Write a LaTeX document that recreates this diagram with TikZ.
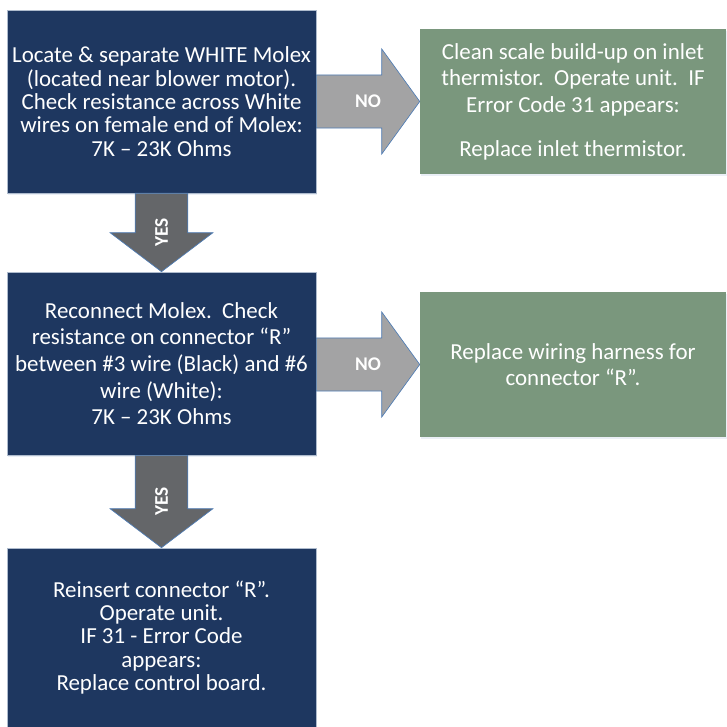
\documentclass[tikz,border=0pt]{standalone}
\usepackage{fontspec}
\setmainfont{Carlito}
\usepackage{tikz}
\usetikzlibrary{positioning,calc,shadows}
\definecolor{navy}{HTML}{1E3760}
\definecolor{sage}{HTML}{7A977D}
\definecolor{nogrey}{HTML}{A3A3A4}
\definecolor{yesgrey}{HTML}{646669}
\definecolor{edgeblue}{HTML}{4F7DB5}
\definecolor{rim}{HTML}{AEBBCD}
\frenchspacing

\tikzset{
  navybox/.style={fill=navy,draw=rim,line width=0.5pt,text=white,align=center,
    minimum width=231.75pt,minimum height=137.25pt,inner sep=0pt,
    font=\fontsize{17.2pt}{17.5pt}\selectfont,
    drop shadow={opacity=0.12,shadow xshift=0.6pt,shadow yshift=-1.8pt,fill=edgeblue}},
  sagebox/.style={fill=sage,text=white,align=center,
    minimum width=229.5pt,minimum height=108.75pt,inner sep=0pt,
    font=\fontsize{17.2pt}{20pt}\selectfont,
    drop shadow={opacity=0.12,shadow xshift=0.6pt,shadow yshift=-1.8pt,fill=edgeblue}},
  noarrow/.style={fill=nogrey,draw=edgeblue,line width=0.5pt,line join=miter},
  yesarrow/.style={fill=yesgrey,draw=edgeblue,line width=0.5pt,line join=miter},
  arrowlabel/.style={text=white,font=\fontsize{14.5pt}{14.5pt}\selectfont\bfseries,inner sep=0pt}
}

% block arrow to the right, from one box to the next
\newcommand{\sidearrow}[3]{%
  \draw[noarrow] let \p1=(#1.east), \p2=(#2.west) in
    (\x1,{\y2+19.9pt}) -- ({\x2-28.5pt},{\y2+19.9pt}) -- ({\x2-28.5pt},{\y2+39.4pt})
    -- (\x2,\y2) -- ({\x2-28.5pt},{\y2-39.4pt}) -- ({\x2-28.5pt},{\y2-19.9pt})
    -- (\x1,{\y2-19.9pt}) -- cycle;
  \node[arrowlabel] (#3) at ($(#1.east)!0.5!(#2.west)$) {NO};}

% block arrow downwards
\newcommand{\yesdown}[3]{%
  \draw[yesarrow] let \p1=(#1.south), \p2=(#2.north) in
    ({\x2-19.7pt},\y1) -- ({\x2-19.7pt},{\y2+29.25pt}) -- ({\x2-38.6pt},{\y2+29.25pt})
    -- (\x2,\y2) -- ({\x2+38.6pt},{\y2+29.25pt}) -- ({\x2+19.7pt},{\y2+29.25pt})
    -- ({\x2+19.7pt},\y1) -- cycle;
  \node[arrowlabel,rotate=90] (#3) at ($(#1.south)!0.5!(#2.north)$) {YES};}

\begin{document}
\begin{tikzpicture}[x=0.75pt,y=-0.75pt]
\useasboundingbox (0,0) rectangle (726,727);

\node[navybox] (molex) at (161.5,101.5)
  {Locate \& separate WHITE Molex\\(located near blower motor).\\Check resistance across White\\wires on female end of Molex:\\7K – 23K Ohms};
\node[sagebox] (inlet) at (573,101.5)
  {Clean scale build-up on inlet\\thermistor.~ Operate unit.~ IF\\Error Code 31 appears:\\[12.75pt]Replace inlet thermistor.};
\node[navybox,font=\fontsize{17.2pt}{20pt}\selectfont] (connR) at (161.5,363.5)
  {Reconnect Molex.~ Check\\resistance on connector “R”\\between \#3 wire (Black) and \#6\\wire (White):\\7K – 23K Ohms};
\node[sagebox] (harness) at (573,364.5)
  {Replace wiring harness for\\connector “R”.};
\node[navybox,minimum height=134.25pt] (board) at (161.5,637.5)
  {Reinsert connector “R”.\\Operate unit.\\IF 31 - Error Code\\appears:\\Replace control board.};

\sidearrow{molex}{inlet}{noA}
\sidearrow{connR}{harness}{noB}
\yesdown{molex}{connR}{yesA}
\yesdown{connR}{board}{yesB}
\end{tikzpicture}
\end{document}
